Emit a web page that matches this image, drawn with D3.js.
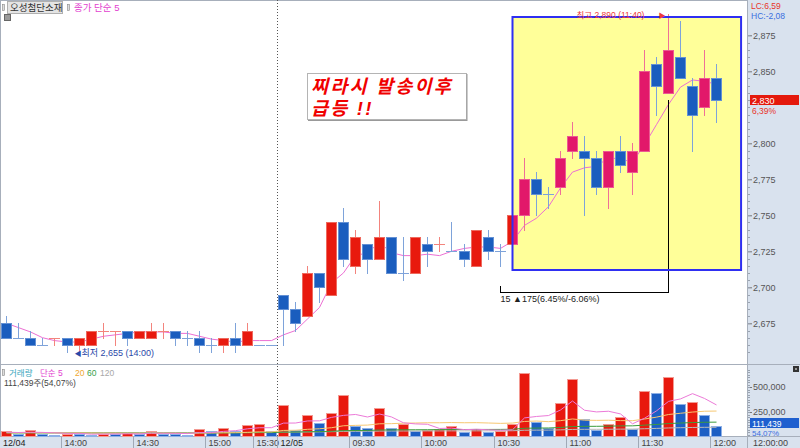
<!DOCTYPE html>
<html><head><meta charset="utf-8">
<script src="https://cdn.jsdelivr.net/npm/d3@7"></script>
<style>
body{margin:0;background:#fff;}
svg{display:block;font-family:"Liberation Sans","Noto Sans CJK KR",sans-serif;}
</style></head><body>
<svg id="c" width="800" height="448"></svg>
<script>
// ---------- DATA ----------
const day1Times = ["13:35","13:40","13:45","13:50","13:55","14:00","14:05","14:10","14:15","14:20","14:25","14:30","14:35","14:40","14:45","14:50","14:55","15:00","15:05","15:10","15:15","15:30","15:40"];
const day2Times = ["09:00","09:05","09:10","09:15","09:20","09:25","09:30","09:35","09:40","09:45","09:50","09:55",
  "10:00","10:05","10:10","10:15","10:20","10:25","10:30","10:35","10:40","10:45","10:50","10:55",
  "11:00","11:05","11:10","11:15","11:20","11:25","11:30","11:35","11:40","11:45","11:50","11:55","12:00"];
const opens = [2675,2665,2665,2660,2665,2665,2660,2660,2670,2670,2670,2665,2665,2670,2670,2665,2665,2660,2660,2665,2660,2660,2660,
  2695,2685,2680,2710,2695,2745,2715,2730,2720,2735,2710,2710,2730,2730,2725,2725,2715,2735,2725,2730,2750,2775,2765,2770,2795,2795,2790,2770,2795,2780,2795,2855,2835,2860,2840,2825,2845];
const highs = [2680,2675,2670,2665,2665,2665,2665,2670,2675,2670,2670,2670,2675,2675,2670,2670,2670,2665,2665,2675,2675,2660,2660,
  2695,2690,2715,2710,2745,2755,2740,2730,2760,2735,2735,2735,2735,2735,2745,2730,2740,2740,2730,2750,2790,2780,2770,2795,2815,2805,2795,2795,2805,2800,2865,2860,2890,2885,2845,2865,2855];
const lows = [2665,2665,2660,2660,2660,2655,2655,2660,2665,2660,2660,2665,2665,2665,2660,2660,2655,2655,2655,2655,2660,2660,2660,
  2660,2670,2680,2690,2695,2715,2710,2710,2720,2710,2705,2710,2715,2725,2725,2715,2715,2720,2715,2730,2740,2750,2755,2765,2790,2750,2765,2755,2780,2765,2795,2820,2835,2845,2795,2820,2815];
const closes = [2665,2665,2660,2660,2665,2660,2665,2670,2670,2670,2665,2670,2670,2670,2665,2665,2660,2660,2665,2660,2670,2660,2660,
  2685,2675,2710,2700,2745,2720,2735,2720,2735,2710,2710,2735,2725,2730,2725,2720,2740,2725,2725,2750,2775,2765,2765,2790,2805,2790,2770,2795,2785,2795,2850,2840,2865,2845,2820,2845,2830];
const volumes = [60000,30000,67000,27000,25000,33000,30000,25000,35000,30000,38000,28000,60000,30000,28000,25000,76000,63000,90000,63000,117000,130000,65000,
  320000,67000,220000,137000,237000,420000,113000,93000,287000,90000,127000,57000,75000,78000,107000,50000,77000,47000,60000,127000,643000,150000,93000,337000,577000,180000,67000,127000,203000,83000,457000,437000,600000,327000,347000,217000,111439];
// closes / volumes of the bars just before the window (for the moving averages)
const closeBefore = [2680,2675,2680,2675];
const volBefore = [35000,40000,45000,38000,42000,36000,40000,44000,38000,41000,39000,43000,37000,40000,42000,45000,50000,40000,45000];
// volume 60 / 120 averages
const volMa60 = [40300,40200,40600,40400,40200,40000,39900,39600,39500,39400,39300,39100,39500,39300,39100,38900,39500,39800,40700,41100,42300,43800,44200,
  48900,49400,52400,54000,57300,63600,64800,65700,69800,70700,72100,72400,73000,73600,74700,74900,75500,75600,76000,77400,87500,89300,90200,95100,104100,106400,106900,108300,111000,111700,118700,125300,134600,139400,144500,147500,148700];
const volMa120 = [45000,45000,45000,45000,45000,45000,45000,45000,45000,45000,45000,45000,45000,45000,45000,45000,45000,45000,46000,46000,46000,46000,46000,
  48500,48700,50300,51100,53100,56200,56800,57200,59200,59600,60300,60400,60700,61000,61500,61500,61700,61800,61900,62600,67600,68500,68900,71300,75700,76800,76900,77600,78900,79200,82600,85900,90500,92900,95400,96800,97300];
// 2,825 is hidden behind the current-price label in the reference
const priceTicks = [2675,2700,2725,2750,2775,2800,2850,2875];
const volTicks = [250000,500000];
const tickSlots = ["12/04 13:35","12/04 14:00","12/04 14:30","12/04 15:00","12/04 15:30","12/05 09:00","12/05 09:30","12/05 10:00","12/05 10:30","12/05 11:00","12/05 11:30","12/05 12:00"];
const tickLabels = ["12/04","14:00","14:30","15:00","15:30","12/05","09:30","10:00","10:30","11:00","11:30","12:00"];
// annotations (data units)
const boxStartSlot = "12/05 10:35", boxSlotSpan = 19, boxTop = 2888, boxBottom = 2712;
const measFrom = "12/05 10:30", measTo = "12/05 11:40", measBase = 2697, measLeftTop = 2701, measRightTop = 2830;

// ---------- SCALES ----------
const slots = day1Times.map(t => "12/04 " + t).concat(day2Times.map(t => "12/05 " + t));
const N = slots.length;
const svg = d3.select("#c");
const x = d3.scaleBand().domain(slots).range([0.85, 0.85 + N * 12.03]).paddingInner(0.085).paddingOuter(0.0425);
const L = t => Math.round(x(t));
const CX = t => L(t) + 5.5;
const y = d3.scaleLinear().domain([2650, 2875]).range([359.3, 35.3]);
const yv = d3.scaleLinear().domain([0, 500000]).range([437, 387]);
const R = v => Math.round(y(v));

// moving averages
const cAll = closeBefore.concat(closes);
const ma5 = closes.map((c, i) => d3.mean(cAll.slice(i, i + 5)));
const vAll = volBefore.concat(volumes);
const off = volBefore.length;
const vma = n => volumes.map((v, i) => d3.mean(vAll.slice(i + off - n + 1, i + off + 1)));
const vma5 = vma(5), vma20 = vma(20);

// candle direction
const dir = [];
closes.forEach((c, i) => {
  const o = opens[i];
  if (c > o) dir.push(1);
  else if (c < o) dir.push(-1);
  else {
    const pc = i > 0 ? closes[i - 1] : closeBefore[closeBefore.length - 1];
    dir.push(c > pc ? 1 : c < pc ? -1 : (i > 0 ? dir[i - 1] : -1));
  }
});
const data = slots.map((t, i) => ({t, i, o: opens[i], h: highs[i], l: lows[i], c: closes[i], v: volumes[i], d: dir[i],
  vd: i === 0 ? 1 : (volumes[i] >= volumes[i - 1] ? 1 : -1)}));

// ---------- BACKGROUND / FRAME ----------
const AXBG = "#d9e2ee";
svg.append("rect").attr("width", 800).attr("height", 448).attr("fill", "#fff");
svg.append("rect").attr("x", 748).attr("y", 0).attr("width", 52).attr("height", 448).attr("fill", AXBG);
svg.append("rect").attr("x", 0).attr("y", 437).attr("width", 748).attr("height", 11).attr("fill", AXBG);
const frame = svg.append("g").attr("stroke", "#a7afbb").attr("stroke-width", 1).attr("shape-rendering", "crispEdges");
frame.append("line").attr("x1", 0.5).attr("x2", 0.5).attr("y1", 0).attr("y2", 437);
frame.append("line").attr("x1", 0).attr("x2", 748).attr("y1", 0.5).attr("y2", 0.5);
frame.append("line").attr("x1", 747.5).attr("x2", 747.5).attr("y1", 0).attr("y2", 448);
frame.append("line").attr("x1", 0).attr("x2", 800).attr("y1", 364.5).attr("y2", 364.5);
frame.append("line").attr("x1", 0).attr("x2", 800).attr("y1", 436.5).attr("y2", 436.5);

// ---------- PRICE PANEL ----------
const bx0 = CX(boxStartSlot), bx1 = CX(boxStartSlot) + boxSlotSpan * x.step();
const by0 = R(boxTop), by1 = R(boxBottom);
svg.append("rect").attr("x", bx0).attr("y", by0).attr("width", bx1 - bx0).attr("height", by1 - by0)
  .attr("fill", "#ffff99");
svg.append("defs").append("clipPath").attr("id", "boxclip")
  .append("rect").attr("x", bx0).attr("y", by0).attr("width", bx1 - bx0).attr("height", by1 - by0);

// day separator
svg.append("line").attr("x1", L("12/05 09:00") - 0.5).attr("x2", L("12/05 09:00") - 0.5)
  .attr("y1", 0).attr("y2", 437).attr("stroke", "#555").attr("stroke-dasharray", "1,2");

// MA5 price line
svg.append("path").datum(data)
  .attr("d", d3.line().x(d => CX(d.t)).y(d => y(ma5[d.i])))
  .attr("fill", "none").attr("stroke", "#ec6fd3").attr("stroke-width", 1);

// measurement bracket
svg.append("path")
  .attr("d", `M${CX(measFrom)},${R(measLeftTop)}V${R(measBase) + 0.5}H${CX(measTo)}V${R(measRightTop)}`)
  .attr("fill", "none").attr("stroke", "#000").attr("stroke-width", 1).attr("shape-rendering", "crispEdges");

function drawCandles(g, pal) {
  g.selectAll("line.w").data(data.filter(pal.filter)).join("line").attr("class", "w")
    .attr("x1", d => CX(d.t)).attr("x2", d => CX(d.t))
    .attr("y1", d => R(d.h)).attr("y2", d => R(d.l) + 1)
    .attr("stroke", d => d.d > 0 ? pal.upW : pal.dnW);
  g.selectAll("rect.b").data(data.filter(d => pal.filter(d) && d.o !== d.c)).join("rect").attr("class", "b")
    .attr("x", d => L(d.t) + 0.5).attr("width", 10)
    .attr("y", d => R(Math.max(d.o, d.c)) + 0.5)
    .attr("height", d => R(Math.min(d.o, d.c)) - R(Math.max(d.o, d.c)))
    .attr("fill", d => d.d > 0 ? pal.up : pal.dn)
    .attr("stroke", d => d.d > 0 ? pal.upS : pal.dnS);
  g.selectAll("line.dj").data(data.filter(d => pal.filter(d) && d.o === d.c)).join("line").attr("class", "dj")
    .attr("x1", d => L(d.t)).attr("x2", d => L(d.t) + 11)
    .attr("y1", d => R(d.c) + 0.5).attr("y2", d => R(d.c) + 0.5)
    .attr("stroke", d => d.d > 0 ? pal.upW : pal.dnW);
}
const cg = svg.append("g").attr("shape-rendering", "crispEdges");
drawCandles(cg, {filter: () => true, up: "#e8190e", upS: "#ee6a5e", upW: "#f3847d", dn: "#1a5dbe", dnS: "#6491d4", dnW: "#7ea3da"});
const cg2 = svg.append("g").attr("shape-rendering", "crispEdges").attr("clip-path", "url(#boxclip)");
drawCandles(cg2, {filter: d => d.d > 0, up: "#e2186a", upS: "#ec5a92", upW: "#ef7098", dn: "#1a5dbe", dnS: "#6491d4", dnW: "#7ea3da"});

// box border
svg.append("rect").attr("x", bx0).attr("y", by0).attr("width", bx1 - bx0).attr("height", by1 - by0)
  .attr("fill", "none").attr("stroke", "#2f2ff2").attr("stroke-width", 2);

// annotations
svg.append("text").attr("x", CX(measFrom)).attr("y", R(measBase) + 10).attr("font-size", 9).attr("fill", "#222")
  .text("15 ▲175(6.45%/-6.06%)");
const hiSlot = "12/05 11:40", loSlot = "12/04 14:00";
svg.append("text").attr("x", CX(hiSlot) - 92).attr("y", R(2890) + 4).attr("font-size", 8.5).attr("fill", "#ee3b3b")
  .text("최고 2,890 (11:40)");
svg.append("text").attr("x", CX(hiSlot) - 10).attr("y", R(2890) + 4).attr("font-size", 7).attr("fill", "#ee3b3b").text("▶");
svg.append("text").attr("x", CX(loSlot) + 7).attr("y", R(2655) + 4).attr("font-size", 7).attr("fill", "#2a48a8").text("◀");
svg.append("text").attr("x", CX(loSlot) + 14).attr("y", R(2655) + 4).attr("font-size", 9).attr("fill", "#2a48a8")
  .text("최저 2,655 (14:00)");

// comment box
const nb = svg.append("g");
nb.append("rect").attr("x", 307.5).attr("y", 73.5).attr("width", 159).attr("height", 46).attr("fill", "#fff").attr("stroke", "#b4b4b4");
nb.append("line").attr("x1", 467).attr("x2", 467).attr("y1", 74).attr("y2", 121).attr("stroke", "#999");
nb.append("line").attr("x1", 308).attr("x2", 467).attr("y1", 120.5).attr("y2", 120.5).attr("stroke", "#999");
nb.append("text").attr("x", 311).attr("y", 93).attr("font-size", 18.5).attr("font-weight", "bold").attr("font-style", "italic")
  .attr("fill", "#f00000").attr("letter-spacing", 2.2).text("찌라시 발송이후");
nb.append("text").attr("x", 311).attr("y", 115).attr("font-size", 18.5).attr("font-weight", "bold").attr("font-style", "italic")
  .attr("fill", "#f00000").attr("letter-spacing", 2.2).text("급등 !!");

// legend
const lg = svg.append("g").attr("font-size", 9.5);
lg.append("rect").attr("x", 2.5).attr("y", 4.5).attr("width", 2).attr("height", 6).attr("fill", "#ddd").attr("stroke", "#888").attr("stroke-width", 0.6);
lg.append("rect").attr("x", 7.5).attr("y", 1.5).attr("width", 55).attr("height", 12).attr("fill", "#e4e4e4").attr("stroke", "#b0b0b0");
lg.append("text").attr("x", 10).attr("y", 11).attr("fill", "#333").text("오성첨단소재");
lg.append("rect").attr("x", 67.5).attr("y", 4.5).attr("width", 2).attr("height", 6).attr("fill", "#ddd").attr("stroke", "#888").attr("stroke-width", 0.6);
lg.append("text").attr("x", 74).attr("y", 11).attr("fill", "#e23fcf").text("종가 단순 5");
lg.append("rect").attr("x", 4.5).attr("y", 14.5).attr("width", 6).attr("height", 6).attr("fill", "#9a9a9a").attr("stroke", "#666");

// price axis
const ya = svg.append("g").attr("transform", "translate(748,0)")
  .call(d3.axisRight(y).tickValues(priceTicks).tickFormat(d3.format(",")).tickSize(4).tickPadding(1));
ya.select(".domain").remove();
ya.selectAll("line").attr("stroke", "#777");
ya.selectAll("text").attr("fill", "#555").attr("font-size", 9).attr("font-family", "Liberation Sans");
svg.append("g").selectAll("line").data(d3.range(2655, 2880, 5)).join("line")
  .attr("x1", 748).attr("x2", 750).attr("y1", d => R(d) + 0.5).attr("y2", d => R(d) + 0.5).attr("stroke", "#9aa3b0");

// axis side labels
const sl = svg.append("g").attr("font-size", 8.5);
sl.append("text").attr("x", 751).attr("y", 8.5).attr("fill", "#e8332a").text("LC:6,59");
sl.append("text").attr("x", 751).attr("y", 18.5).attr("fill", "#3a6fe0").text("HC:-2,08");
sl.append("rect").attr("x", 750).attr("y", R(2830) - 5).attr("width", 49).attr("height", 10).attr("fill", "#e4190c");
sl.append("text").attr("x", 752).attr("y", R(2830) + 3.5).attr("font-size", 9).attr("fill", "#fff").text("2,830");
sl.append("text").attr("x", 752).attr("y", R(2830) + 14).attr("fill", "#e8332a").text("6,39%");

// ---------- VOLUME PANEL ----------
const vg = svg.append("g").attr("shape-rendering", "crispEdges");
vg.selectAll("rect").data(data).join("rect")
  .attr("x", d => L(d.t) + 0.5).attr("width", 10)
  .attr("y", d => Math.round(yv(d.v)) + 0.5)
  .attr("height", d => 436 - Math.round(yv(d.v)))
  .attr("fill", d => d.vd > 0 ? "#e8190e" : "#1d5fc4")
  .attr("stroke", d => d.vd > 0 ? "#f39a92" : "#8eb0e6");
const vline = arr => d3.line().x(d => CX(d.t)).y(d => yv(arr[d.i]));
svg.append("path").datum(data).attr("d", vline(volMa120)).attr("fill", "none").attr("stroke", "#b9b9b9");
svg.append("path").datum(data).attr("d", vline(volMa60)).attr("fill", "none").attr("stroke", "#3c9c3c");
svg.append("path").datum(data).attr("d", vline(vma20)).attr("fill", "none").attr("stroke", "#f7c872");
svg.append("path").datum(data).attr("d", vline(vma5)).attr("fill", "none").attr("stroke", "#ec7ad8");

const vl = svg.append("g").attr("font-size", 8.5);
vl.append("rect").attr("x", 2.5).attr("y", 369.5).attr("width", 2).attr("height", 6).attr("fill", "#ddd").attr("stroke", "#888").attr("stroke-width", 0.6);
vl.append("text").attr("x", 9).attr("y", 375.5).attr("fill", "#3aa6bd").text("거래량");
vl.append("text").attr("x", 40).attr("y", 375.5).attr("fill", "#e23fcf").text("단순 5");
vl.append("text").attr("x", 75).attr("y", 375.5).attr("fill", "#f0a830").text("20");
vl.append("text").attr("x", 87).attr("y", 375.5).attr("fill", "#3aa04a").text("60");
vl.append("text").attr("x", 100).attr("y", 375.5).attr("fill", "#a8a8a8").text("120");
vl.append("text").attr("x", 4).attr("y", 385.5).attr("fill", "#444").text("111,439주(54,07%)");

const va = svg.append("g").attr("transform", "translate(748,0)")
  .call(d3.axisRight(yv).tickValues(volTicks).tickFormat(d3.format(",")).tickSize(4).tickPadding(1));
va.select(".domain").remove();
va.selectAll("line").attr("stroke", "#777");
va.selectAll("text").attr("fill", "#555").attr("font-size", 9);
svg.append("g").selectAll("line").data(d3.range(25000, 700000, 25000)).join("line")
  .attr("x1", 748).attr("x2", 750).attr("y1", d => Math.round(yv(d)) + 0.5).attr("y2", d => Math.round(yv(d)) + 0.5)
  .attr("stroke", "#9aa3b0").attr("display", d => yv(d) < 368 ? "none" : null);
const vCur = volumes[volumes.length - 1];
svg.append("rect").attr("x", 750).attr("y", Math.round(yv(vCur)) - 8).attr("width", 49).attr("height", 10).attr("fill", "#1e5fcf");
svg.append("text").attr("x", 752).attr("y", Math.round(yv(vCur)) + 0.5).attr("font-size", 8.5).attr("fill", "#fff").text(d3.format(",")(vCur));
svg.append("text").attr("x", 752).attr("y", Math.round(yv(vCur)) + 10).attr("font-size", 8).attr("fill", "#3a6fe0").text("54,07%");
svg.append("rect").attr("x", 793.5).attr("y", 366.5).attr("width", 5).attr("height", 5).attr("fill", "#333").attr("stroke", "#333");
svg.append("line").attr("x1", 795).attr("x2", 797).attr("y1", 369).attr("y2", 369).attr("stroke", "#fff");

// ---------- TIME AXIS ----------
const ta = svg.append("g").attr("font-size", 9);
tickSlots.forEach((s, k) => {
  const xx = L(s) - 0.5;
  if (k > 0) ta.append("line").attr("x1", xx).attr("x2", xx).attr("y1", 437).attr("y2", 448).attr("stroke", "#a0a9b6");
  ta.append("text").attr("x", k === 0 ? 3 : xx + 3).attr("y", 446).attr("fill", tickLabels[k].includes("/") ? "#222" : "#444")
    .text(tickLabels[k]);
});
ta.append("text").attr("x", 753).attr("y", 446).attr("fill", "#444").text("12:00:00");
</script>
</body></html>
